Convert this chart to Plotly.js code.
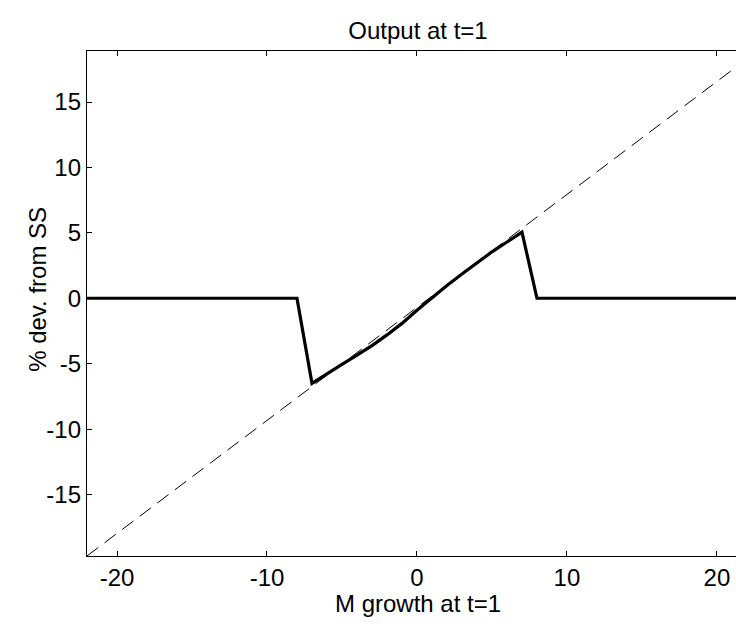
<!DOCTYPE html>
<html>
<head>
<meta charset="utf-8">
<script src="https://cdn.plot.ly/plotly-3.0.1.min.js"></script>
<style>html,body{margin:0;padding:0;background:#fff;}#chart{width:736px;height:629px;}</style>
</head>
<body>
<div id="chart"></div>
<script>
// M growth at t=1 (x) and output response (% dev. from SS)
const mGrowth = [-22, -8, -7, -6, -5, -4, -3, -2, -1, 0, 1, 2, 3, 4, 5, 6, 7, 8, 22];
const outputDev = [0, 0, -6.5, -5.75, -5.05, -4.35, -3.62, -2.8, -1.92, -0.92, 0.05, 0.98, 1.85, 2.72, 3.55, 4.3, 5.05, 0, 0];
// reference (dashed) line
const refX = [-22, 22];
const refY = [-19.7, 18.3];

const xTicks = [-20, -10, 0, 10, 20];
const yTicks = [-15, -10, -5, 0, 5, 10, 15];
const xTitle = 'M growth at t=1';
const yTitle = '% dev. from SS';
const chartTitle = 'Output at t=1';
const fontFam = '"Liberation Sans", Arial, Helvetica, sans-serif';

const traces = [
  {x: refX, y: refY, mode: 'lines', line: {color: '#000', width: 1, dash: '14px,8px'}, hoverinfo: 'skip'},
  {x: mGrowth, y: outputDev, mode: 'lines', line: {color: '#000', width: 3.2}, hoverinfo: 'skip'}
];

const layout = {
  width: 736, height: 629,
  margin: {l: 87, r: 0, t: 51, b: 73, pad: 0},
  paper_bgcolor: '#fff', plot_bgcolor: '#fff',
  showlegend: false,
  font: {family: fontFam, color: '#000', size: 24},
  title: {text: chartTitle, font: {family: fontFam, size: 24, color: '#000'},
          xref: 'paper', x: 0.51, xanchor: 'center', yref: 'container', y: 0.952, yanchor: 'middle'},
  xaxis: {
    range: [-22, 21.27], tickvals: xTicks, ticktext: xTicks.map(String),
    ticks: 'inside', ticklen: 5, tickwidth: 1, tickcolor: '#000',
    showline: true, linecolor: '#000', linewidth: 1.2, mirror: 'ticks',
    showgrid: false, zeroline: false,
    tickfont: {family: fontFam, size: 24, color: '#000'}
  },
  yaxis: {
    range: [-19.7, 18.9], tickvals: yTicks, ticktext: yTicks.map(String),
    ticks: 'inside', ticklen: 5, tickwidth: 1, tickcolor: '#000',
    showline: true, linecolor: '#000', linewidth: 1.2, mirror: false,
    showgrid: false, zeroline: false,
    tickfont: {family: fontFam, size: 24, color: '#000'}
  },
  annotations: [
    {text: xTitle, xref: 'paper', yref: 'paper', x: 0.51, y: -0.094, xanchor: 'center', yanchor: 'middle',
     showarrow: false, font: {family: fontFam, size: 24, color: '#000'}},
    {text: yTitle, xref: 'paper', yref: 'paper', x: -0.0755, y: 0.527, xanchor: 'center', yanchor: 'middle',
     textangle: -90, showarrow: false, font: {family: fontFam, size: 24, color: '#000'}}
  ]
};

Plotly.newPlot('chart', traces, layout, {staticPlot: true, displayModeBar: false});
</script>
</body>
</html>
